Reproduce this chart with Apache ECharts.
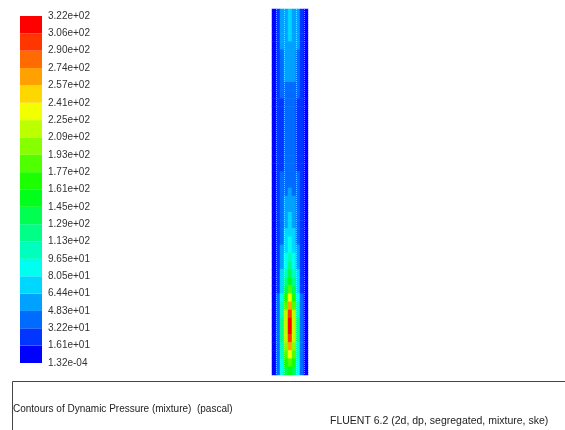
<!DOCTYPE html>
<html>
<head>
<meta charset="utf-8">
<script src="https://cdn.jsdelivr.net/npm/echarts@6/dist/echarts.min.js"></script>
<style>
  html, body { margin: 0; padding: 0; background: #fff; }
  #chart { width: 565px; height: 430px; }
</style>
</head>
<body>
<div id="chart"></div>
<script>
// legend levels, bottom to top (pascal)
const tickLabels = ['1.32e-04', '1.61e+01', '3.22e+01', '4.83e+01', '6.44e+01', '8.05e+01',
  '9.65e+01', '1.13e+02', '1.29e+02', '1.45e+02', '1.61e+02', '1.77e+02', '1.93e+02',
  '2.09e+02', '2.25e+02', '2.41e+02', '2.57e+02', '2.74e+02', '2.90e+02', '3.06e+02', '3.22e+02'];
const levels = tickLabels.map(Number);

// fluent rainbow, one colour per band (blue -> red)
const bandColors = ['#0000ff', '#0036ff', '#006bff', '#00a1ff', '#00d7ff', '#00fff1', '#00ffbc',
  '#00ff86', '#00ff50', '#00ff1b', '#1bff00', '#50ff00', '#86ff00', '#bcff00', '#f1ff00',
  '#ffd700', '#ffa100', '#ff6b00', '#ff3600', '#ff0000'];

// dynamic pressure across the pipe (9 cells wide), rows from top to bottom
const pressureRows = [
  [8, 26, 52, 62, 66, 62, 52, 26, 8],
  [8, 26, 52, 64, 68, 64, 52, 26, 8],
  [8, 26, 52, 64, 68, 64, 52, 26, 8],
  [8, 25, 50, 62, 66, 62, 50, 25, 8],
  [8, 25, 49, 60, 64, 60, 49, 25, 8],
  [8, 24, 46, 58, 62, 58, 46, 24, 8],
  [8, 24, 44, 55, 58, 55, 44, 24, 8],
  [8, 23, 42, 52, 55, 52, 42, 23, 8],
  [8, 22, 40, 49, 52, 49, 40, 22, 8],
  [8, 22, 37, 45, 47, 45, 37, 22, 8],
  [8, 21, 34, 42, 44, 42, 34, 21, 8],
  [8, 20, 32, 38, 40, 38, 32, 20, 8],
  [8, 20, 30, 36, 38, 36, 30, 20, 8],
  [8, 20, 30, 36, 38, 36, 30, 20, 8],
  [8, 19, 29, 35, 37, 35, 29, 19, 8],
  [8, 19, 29, 35, 37, 35, 29, 19, 8],
  [8, 19, 29, 35, 37, 35, 29, 19, 8],
  [8, 20, 30, 36, 38, 36, 30, 20, 8],
  [8, 20, 31, 37, 40, 37, 31, 20, 8],
  [8, 20, 32, 39, 42, 39, 32, 20, 8],
  [8, 21, 33, 41, 45, 41, 33, 21, 8],
  [8, 21, 34, 44, 48, 44, 34, 21, 8],
  [8, 22, 36, 47, 52, 47, 36, 22, 8],
  [8, 22, 38, 50, 56, 50, 38, 22, 8],
  [8, 23, 40, 54, 60, 54, 40, 23, 8],
  [8, 23, 42, 58, 66, 58, 42, 23, 8],
  [8, 24, 44, 62, 72, 62, 44, 24, 8],
  [8, 24, 46, 66, 78, 66, 46, 24, 8],
  [8, 25, 48, 72, 86, 72, 48, 25, 8],
  [8, 26, 52, 78, 94, 78, 52, 26, 8],
  [8, 27, 56, 86, 104, 86, 56, 27, 8],
  [8, 28, 60, 95, 118, 95, 60, 28, 8],
  [8, 29, 66, 108, 135, 108, 66, 29, 8],
  [9, 30, 72, 122, 155, 122, 72, 30, 9],
  [9, 32, 80, 140, 185, 140, 80, 32, 9],
  [9, 35, 90, 165, 225, 165, 90, 35, 9],
  [9, 38, 100, 190, 262, 190, 100, 38, 9],
  [9, 40, 110, 210, 292, 210, 110, 40, 9],
  [9, 42, 118, 222, 315, 222, 118, 42, 9],
  [9, 42, 118, 222, 312, 222, 118, 42, 9],
  [9, 42, 115, 212, 292, 212, 115, 42, 9],
  [9, 40, 108, 198, 258, 198, 108, 40, 9],
  [9, 38, 100, 182, 225, 182, 100, 38, 9],
  [9, 36, 92, 162, 192, 162, 92, 36, 9],
  [9, 34, 84, 140, 160, 140, 84, 34, 9]
];

const titleText = 'Contours of Dynamic Pressure (mixture)  (pascal)';
const solverText = 'FLUENT 6.2 (2d, dp, segregated, mixture, ske)';

const chart = echarts.init(document.getElementById('chart'));

const cols = pressureRows[0].map((_, i) => String(i));
const rows = pressureRows.map((_, i) => String(i));
const cells = [];
pressureRows.forEach((row, r) => row.forEach((v, c) => cells.push([c, r, v])));

// dotted mesh lines inside the pipe
const meshLines = [1, 3, 6, 8];

const legendSeries = bandColors.map((color, i) => ({
  type: 'bar',
  name: 'band' + i,
  xAxisIndex: 1,
  yAxisIndex: 1,
  stack: 'legend',
  data: [1],
  barWidth: '100%',
  silent: true,
  itemStyle: { color: color }
}));

const option = {
  backgroundColor: '#fff',
  animation: false,
  grid: [
    { left: 272, top: 9, width: 36, height: 366 },
    { left: 20, top: 16, width: 22, height: 347 }
  ],
  xAxis: [
    {
      type: 'category', gridIndex: 0, data: cols, z: 5,
      axisLine: { show: false }, axisTick: { show: false }, axisLabel: { show: false },
      splitLine: {
        show: true,
        interval: (i) => meshLines.includes(i),
        lineStyle: { color: 'rgba(255,255,255,0.5)', type: 'dotted', width: 1 }
      }
    },
    { type: 'category', gridIndex: 1, data: [''], show: false }
  ],
  yAxis: [
    {
      type: 'category', gridIndex: 0, data: rows, inverse: true,
      axisLine: { show: false }, axisTick: { show: false }, axisLabel: { show: false },
      splitLine: { show: false }
    },
    {
      type: 'value', gridIndex: 1, min: 0, max: 20, interval: 1, position: 'right',
      axisLine: { show: false }, axisTick: { show: false }, splitLine: { show: false },
      axisLabel: {
        color: '#333', fontSize: 10, fontFamily: 'Liberation Sans', margin: 6,
        formatter: (v) => tickLabels[v]
      }
    }
  ],
  visualMap: {
    type: 'piecewise',
    show: false,
    seriesIndex: 0,
    pieces: bandColors.map((color, i) => ({ gte: levels[i], lt: levels[i + 1], color: color }))
  },
  series: [
    {
      type: 'heatmap',
      xAxisIndex: 0,
      yAxisIndex: 0,
      data: cells,
      emphasis: { disabled: true }
    }
  ].concat(legendSeries),
  graphic: [
    {
      type: 'rect',
      shape: { x: 12.5, y: 381.5, width: 560, height: 60 },
      style: { fill: 'none', stroke: '#444', lineWidth: 1 }
    },
    {
      type: 'text', left: 13, top: 404,
      style: { text: titleText, fill: '#222', font: '10px "Liberation Sans"' }
    },
    {
      type: 'text', left: 330, top: 416,
      style: { text: solverText, fill: '#222', font: '10.5px "Liberation Sans"' }
    }
  ]
};

chart.setOption(option);
window.addEventListener('resize', () => chart.resize());
</script>
</body>
</html>
